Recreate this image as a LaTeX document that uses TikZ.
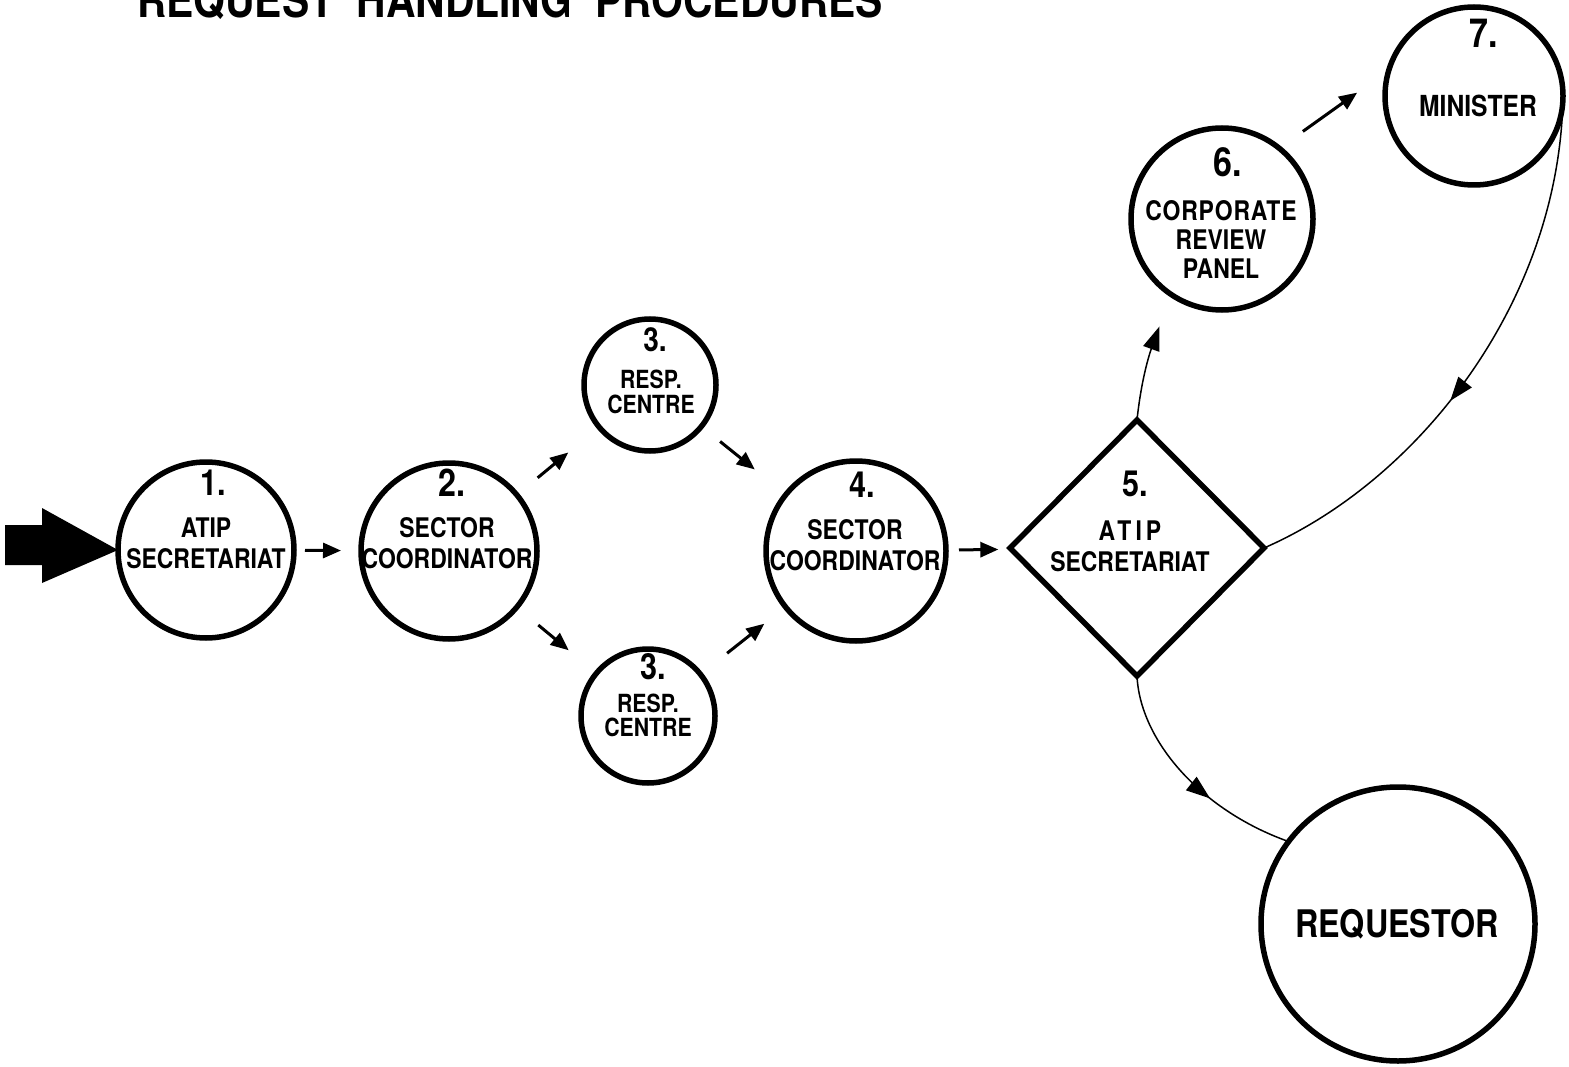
\documentclass[tikz,border=0pt]{standalone}
\usepackage{fontspec}
\setmainfont{TeX Gyre Heros}[FakeStretch=0.85]
\usetikzlibrary{shapes.geometric,arrows.meta,decorations.markings,calc}
\begin{document}
\begin{tikzpicture}[x=1pt,y=1pt,
  circ/.style={circle, draw, line width=5.5pt, inner sep=0pt, outer sep=0pt},
  dia/.style={diamond, draw, line width=5.5pt, inner sep=0pt, outer sep=0pt, minimum width=254pt, minimum height=256pt},
  lbl/.style={font=\fontsize{27}{31}\selectfont\bfseries, align=center, inner sep=0pt},
  num/.style={font=\fontsize{36}{36}\selectfont\bfseries, inner sep=0pt},
  arr/.style={line width=3pt, -{Triangle[length=18pt,width=15pt]}},
  flow/.style={line width=1.5pt},
  midarrow/.style={postaction={decorate}, decoration={markings, mark=at position #1 with {\arrow{Triangle[length=24pt,width=17pt]}}}}
]
\useasboundingbox (0,0) rectangle (1569,-1067);
\fill[white] (0,0) rectangle (1569,-1067);

% title (cut off at the top)
\node[font=\fontsize{48}{48}\selectfont\bfseries, anchor=base, inner sep=0pt] (title) at (510,-18) {REQUEST~~HANDLING~~PROCEDURES};

% nodes
\node[circ, minimum size=176pt] (n1) at (206,-550) {};
\node[circ, minimum size=176pt] (n2) at (449,-551) {};
\node[circ, minimum size=132pt] (n3a) at (650,-385) {};
\node[circ, minimum size=134pt] (n3b) at (648,-716) {};
\node[circ, minimum size=180pt] (n4) at (856,-551) {};
\node[dia] (n5) at (1137,-548) {};
\node[circ, minimum size=182pt] (n6) at (1222,-219) {};
\node[circ, minimum size=178pt] (n7) at (1474,-96) {};
\node[circ, minimum size=274pt] (nr) at (1398,-924) {};

% texts
\node[num] (d1) at (213,-483) {1.};
\node[lbl] (t1) at (206,-543) {ATIP\\SECRETARIAT};
\node[num, font=\fontsize{38}{38}\selectfont\bfseries] (d2) at (452,-483) {2.};
\node[lbl] (t2) at (447,-543) {SECTOR\\COORDINATOR};
\node[num, font=\fontsize{33}{33}\selectfont\bfseries] (d3a) at (655,-340) {3.};
\node[lbl, font=\fontsize{25}{25}\selectfont\bfseries] (t3a) at (651,-392) {RESP.\\CENTRE};
\node[num] (d3b) at (653,-667) {3.};
\node[lbl, font=\fontsize{25}{24}\selectfont\bfseries] (t3b) at (648,-715) {RESP.\\CENTRE};
\node[num] (d4) at (862,-485) {4.};
\node[lbl] (t4) at (855,-545) {SECTOR\\COORDINATOR};
\node[num] (d5) at (1135,-484) {5.};
\node[lbl] (t5) at (1130,-546) {\addfontfeature{LetterSpace=15}ATIP\\SECRETARIAT};
\node[num, font=\fontsize{40}{40}\selectfont\bfseries] (d6) at (1228,-162) {6.};
\node[lbl, font=\fontsize{27}{29}\selectfont\bfseries] (t6) at (1221,-239) {\addfontfeature{LetterSpace=3}CORPORATE\\REVIEW\\PANEL};
\node[num, font=\fontsize{40}{40}\selectfont\bfseries] (d7) at (1484,-33) {7.};
\node[lbl, font=\fontsize{29}{31}\selectfont\bfseries] (t7) at (1478,-106) {MINISTER};
\node[lbl, font=\fontsize{38}{40}\selectfont\bfseries] (tr) at (1397,-924) {REQUESTOR};

% incoming block arrow
\fill (5,-525) -- (42,-525) -- (42,-508) -- (n1.west) -- (42,-583) -- (42,-565) -- (5,-565) -- cycle;

% short arrows
\draw[arr, shorten <=11pt, shorten >=20pt] (n1) -- (n2);
\draw[arr, shorten <=27pt, shorten >=40pt] (n2) -- (n3a);
\draw[arr, shorten <=28pt, shorten >=36pt] (n2) -- (n3b);
\draw[arr, shorten <=24pt, shorten >=40pt] (n3a) -- (n4);
\draw[arr, shorten <=34pt, shorten >=27pt] (n3b) -- (n4);
\draw[arr, shorten <=13pt, shorten >=13pt] (n4) -- (n5);
\draw[arr, shorten <=29pt, shorten >=39pt] (n6.51) -- (n7.163);

% curved connectors
\draw[flow, -{Triangle[length=24pt,width=17pt]}, shorten >=34pt] (n5.north) to[out=84,in=250] (n6.236);
\draw[flow, midarrow=0.58] (n7.east) .. controls (1560,-300) and (1420,-480) .. (n5.east);
\draw[flow, midarrow=0.62] (n5.south) .. controls (1140,-740) and (1200,-810) .. (nr.143);
\end{tikzpicture}
\end{document}
